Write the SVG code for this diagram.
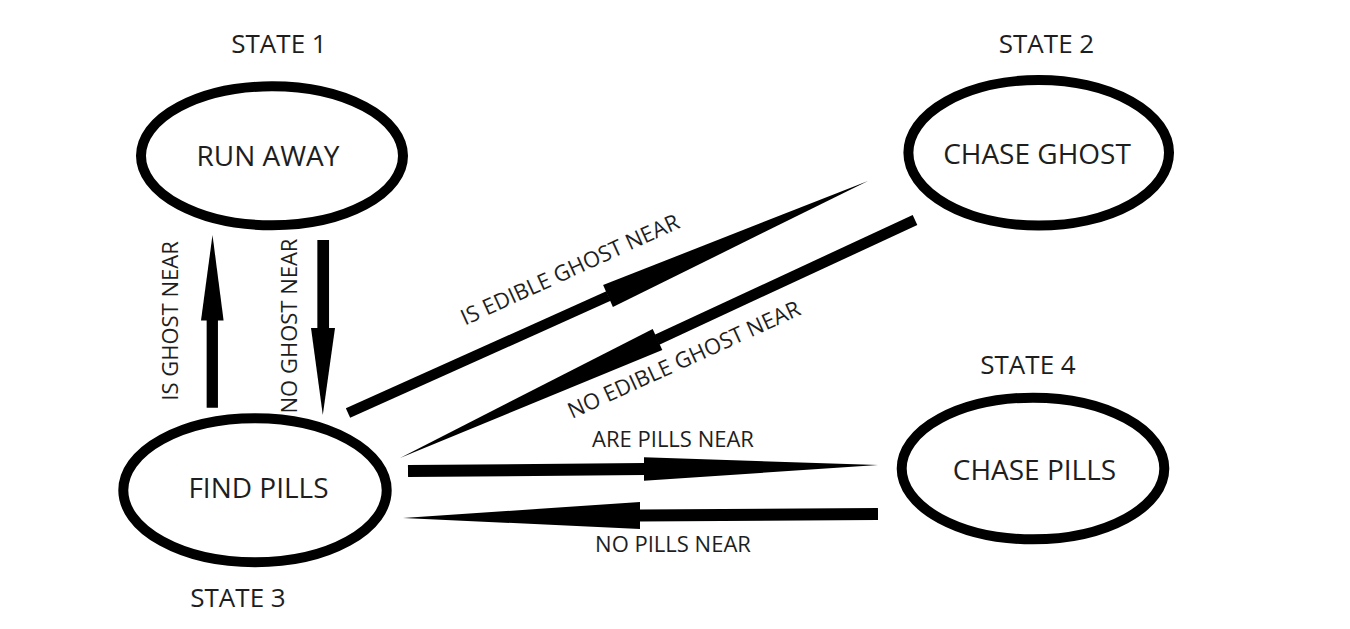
<svg xmlns="http://www.w3.org/2000/svg" width="1350" height="629" viewBox="0 0 1350 629">
<style>
.node ellipse{fill:#fff;stroke:#000;stroke-width:10}
.lbl{font-family:"Open Sans","Noto Sans","Liberation Sans",sans-serif;fill:#1e1e1e;text-anchor:middle}
.nl{font-size:28px}
.sl{font-size:26px}
.el{font-size:22px}
.shaft{stroke:#000;stroke-linecap:butt;fill:none}
.head{fill:#000;stroke:none}
</style>
<rect width="1350" height="629" fill="#fff"/>
<g id="connectors">
  <g id="e-find-run">
    <line class="shaft" x1="212.3" y1="407.7" x2="212.3" y2="320" stroke-width="11.3"/>
    <polygon class="head" points="201,320.5 223.6,320.5 212.5,235"/>
  </g>
  <g id="e-run-find">
    <line class="shaft" x1="323.2" y1="240" x2="323.2" y2="328.5" stroke-width="11.7"/>
    <polygon class="head" points="311,328 335,328 322.8,415"/>
  </g>
  <g id="e-find-ghost">
    <line class="shaft" x1="348" y1="413" x2="608.5" y2="296" stroke-width="10.5"/>
    <polygon class="head" points="612.9,307 603.1,285 868,181"/>
  </g>
  <g id="e-ghost-find">
    <line class="shaft" x1="915" y1="220" x2="657" y2="339.7" stroke-width="11"/>
    <polygon class="head" points="662.3,350 652.7,329 400,458"/>
  </g>
  <g id="e-find-pills">
    <line class="shaft" x1="408" y1="471" x2="644.5" y2="469" stroke-width="12"/>
    <polygon class="head" points="644,457.3 644,480.7 878,465"/>
  </g>
  <g id="e-pills-find">
    <line class="shaft" x1="878" y1="514" x2="639.5" y2="515.5" stroke-width="12"/>
    <polygon class="head" points="640,502 640,529 403,518"/>
  </g>
  <text class="lbl el" transform="translate(178,321) rotate(-90)">IS GHOST NEAR</text>
  <text class="lbl el" transform="translate(297,326) rotate(-90)">NO GHOST NEAR</text>
  <text class="lbl el" transform="translate(573,276.5) rotate(-24.5)">IS EDIBLE GHOST NEAR</text>
  <text class="lbl el" transform="translate(687,366.5) rotate(-24.5)">NO EDIBLE GHOST NEAR</text>
  <text class="lbl el" x="673" y="447">ARE PILLS NEAR</text>
  <text class="lbl el" x="673" y="552">NO PILLS NEAR</text>
</g>
<g id="state1" class="node">
  <ellipse cx="272" cy="155.8" rx="131" ry="69.5"/>
  <text class="lbl nl" x="268" y="165.7">RUN AWAY</text>
  <text class="lbl sl" x="279" y="53.3">STATE 1</text>
</g>
<g id="state2" class="node">
  <ellipse cx="1038.7" cy="152.8" rx="130.3" ry="72.8"/>
  <text class="lbl nl" x="1037" y="164">CHASE GHOST</text>
  <text class="lbl sl" x="1046.5" y="53.3">STATE 2</text>
</g>
<g id="state3" class="node">
  <ellipse cx="255" cy="490.3" rx="131.7" ry="72"/>
  <text class="lbl nl" x="258.5" y="498">FIND PILLS</text>
  <text class="lbl sl" x="238" y="607">STATE 3</text>
</g>
<g id="state4" class="node">
  <ellipse cx="1033" cy="468.5" rx="131.3" ry="70.8"/>
  <text class="lbl nl" x="1034.5" y="480">CHASE PILLS</text>
  <text class="lbl sl" x="1028" y="374">STATE 4</text>
</g>
</svg>
